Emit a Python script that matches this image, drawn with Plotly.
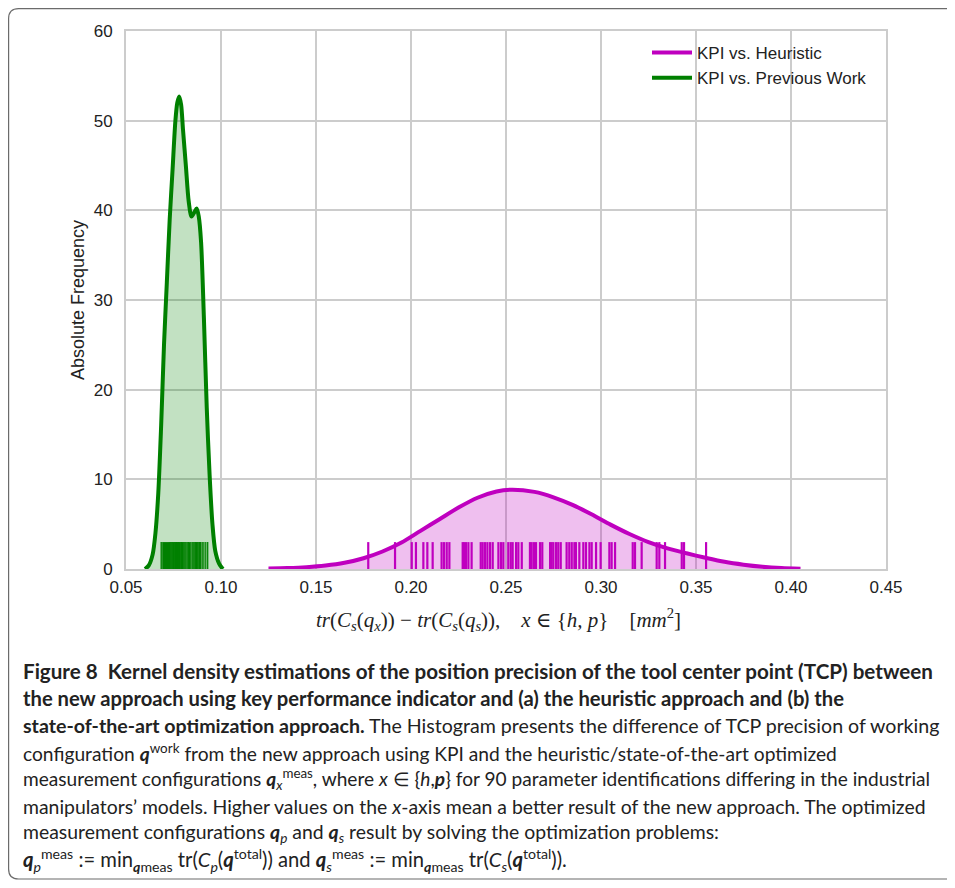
import plotly.graph_objects as go

# ---------------- data ----------------
heur_x = [0.125, 0.135, 0.145, 0.155, 0.165, 0.175, 0.185, 0.195, 0.205, 0.215,
          0.225, 0.235, 0.245, 0.253, 0.265, 0.275, 0.285, 0.295, 0.305, 0.315,
          0.325, 0.335, 0.345, 0.355, 0.365, 0.375, 0.385, 0.395, 0.405]
heur_y = [0.05, 0.10, 0.20, 0.38, 0.69, 1.20, 1.95, 2.95, 4.25, 5.55,
          6.85, 7.95, 8.65, 8.85, 8.60, 8.00, 7.15, 6.10, 4.95, 3.90,
          3.00, 2.30, 1.75, 1.25, 0.80, 0.48, 0.25, 0.11, 0.04]

prev_x = [0.0600, 0.0620, 0.0640, 0.0655, 0.0670, 0.0685, 0.0700, 0.0715, 0.0730,
          0.0745, 0.0760, 0.0770, 0.0780, 0.0790, 0.0800, 0.0815, 0.0830, 0.0845,
          0.0860, 0.0872, 0.0883, 0.0895, 0.0910, 0.0925, 0.0940, 0.0955, 0.0970,
          0.0990, 0.1010]
prev_y = [0.0, 0.4, 1.6, 4.0, 8.5, 16.0, 25.0, 32.0, 39.0,
          44.5, 50.0, 52.0, 52.7, 51.8, 49.0, 45.0, 41.0, 39.3,
          39.8, 40.2, 39.3, 36.5, 28.0, 18.0, 10.5, 5.0, 2.0,
          0.6, 0.0]

heur_rug = [0.1775, 0.1916, 0.2004, 0.2026, 0.2065, 0.2086, 0.2114, 0.2161, 0.2174,
            0.2188, 0.2202, 0.2272, 0.2279, 0.2289, 0.2302, 0.2319, 0.2367, 0.2377,
            0.2389, 0.2402, 0.2416, 0.2430, 0.2460, 0.2474, 0.2486, 0.2512, 0.2525,
            0.2535, 0.2553, 0.2565, 0.2583, 0.2626, 0.2635, 0.2647, 0.2658, 0.2679,
            0.2691, 0.2732, 0.2740, 0.2749, 0.2763, 0.2775, 0.2788, 0.2819, 0.2833,
            0.2846, 0.2860, 0.2868, 0.2886, 0.2907, 0.2921, 0.2939, 0.2951, 0.2974,
            0.2998, 0.3044, 0.3056, 0.3074, 0.3167, 0.3179, 0.3214, 0.3293, 0.3307,
            0.3337, 0.3425, 0.3437, 0.3553]

prev_rug = [0.0685, 0.0690, 0.0697, 0.0702, 0.0708, 0.0713, 0.0719, 0.0724, 0.0729,
            0.0733, 0.0738, 0.0742, 0.0746, 0.0750, 0.0754, 0.0758, 0.0761, 0.0765,
            0.0768, 0.0771, 0.0775, 0.0778, 0.0781, 0.0785, 0.0789, 0.0793, 0.0797,
            0.0801, 0.0806, 0.0811, 0.0816, 0.0822, 0.0828, 0.0834, 0.0841, 0.0848,
            0.0853, 0.0858, 0.0863, 0.0867, 0.0871, 0.0875, 0.0880, 0.0886, 0.0893,
            0.0901, 0.0910, 0.0920, 0.0930]
rug_height = 3.0

series_names = ["KPI vs. Heuristic", "KPI vs. Previous Work"]
x_ticks = [0.05, 0.10, 0.15, 0.20, 0.25, 0.30, 0.35, 0.40, 0.45]
y_ticks = [0, 10, 20, 30, 40, 50, 60]

MAG = "#bf00bf"
GRN = "#008000"


def rug_xy(vals, h):
    xs, ys = [], []
    for v in vals:
        xs += [v, v, None]
        ys += [0, h, None]
    return xs, ys


fig = go.Figure()

# fills
fig.add_trace(go.Scatter(x=heur_x, y=heur_y, mode="lines", line=dict(width=0, shape="spline", smoothing=0.8),
                         fill="tozeroy", fillcolor="rgba(191,0,191,0.25)", showlegend=False, hoverinfo="skip"))
fig.add_trace(go.Scatter(x=prev_x, y=prev_y, mode="lines", line=dict(width=0, shape="spline", smoothing=0.8),
                         fill="tozeroy", fillcolor="rgba(0,128,0,0.24)", showlegend=False, hoverinfo="skip"))

# rugs
rx, ry = rug_xy(heur_rug, rug_height)
fig.add_trace(go.Scatter(x=rx, y=ry, mode="lines", line=dict(color=MAG, width=2.2), showlegend=False, hoverinfo="skip"))
rx, ry = rug_xy(prev_rug, rug_height)
fig.add_trace(go.Scatter(x=rx, y=ry, mode="lines", line=dict(color=GRN, width=1.3), showlegend=False, hoverinfo="skip"))

# curves
fig.add_trace(go.Scatter(x=heur_x, y=heur_y, mode="lines", name=series_names[0],
                         line=dict(color=MAG, width=4, shape="spline", smoothing=0.8)))
fig.add_trace(go.Scatter(x=prev_x, y=prev_y, mode="lines", name=series_names[1],
                         line=dict(color=GRN, width=4, shape="spline", smoothing=0.8)))

# page body has an 8px margin; work in screen pixels and convert
OFF = 8
W, H = 955 - OFF, 888 - OFF
L, R, T, B = 126 - OFF, 69, 31 - OFF, 319
PW, PH = W - L - R, H - T - B


def px(xs):
    return (xs - OFF - L) / PW


def py(ys):
    return (H - B - (ys - OFF)) / PH


# rounded frame around whole figure (left/top edges sit at the page corner)
fl, ft, fb, fr = -L / PW + 0.6 / PW, (H - B - 0.6) / PH, py(879), px(975)
rx_, ry_ = 10 / PW, 10 / PH
frame_path = (f"M {fr},{ft} L {fl + rx_},{ft} Q {fl},{ft} {fl},{ft - ry_} "
              f"L {fl},{fb + ry_} Q {fl},{fb} {fl + rx_},{fb} L {fr},{fb}")

SANS = "Liberation Sans, Arial, sans-serif"
axis_font = dict(family=SANS, size=17, color="#222222")

fig.update_layout(
    width=W, height=H,
    margin=dict(l=L, r=R, t=T, b=B),
    paper_bgcolor="white", plot_bgcolor="white",
    showlegend=True,
    legend=dict(x=px(647), y=py(35), xanchor="left", yanchor="top",
                font=dict(family=SANS, size=17, color="#222222"),
                bgcolor="rgba(0,0,0,0)", itemwidth=40, tracegroupgap=0),
    xaxis=dict(range=[0.05, 0.45], tickvals=x_ticks, ticktext=[f"{v:.2f}" for v in x_ticks],
               showgrid=True, gridcolor="#cccccc", gridwidth=2, zeroline=False,
               showline=True, linecolor="#cccccc", linewidth=2, mirror=True,
               ticks="", tickfont=axis_font, ticklabelstandoff=2),
    yaxis=dict(range=[0, 60], tickvals=y_ticks, showgrid=True, gridcolor="#cccccc", gridwidth=2,
               zeroline=False, showline=True, linecolor="#cccccc", linewidth=2, mirror=True,
               ticks="", tickfont=axis_font, ticklabelstandoff=8,
               title=dict(text="Absolute Frequency", font=dict(family=SANS, size=18, color="#222222"),
                          standoff=4)),
    shapes=[dict(type="path", xref="paper", yref="paper", path=frame_path,
                 line=dict(color="#6b6b6b", width=1.2), layer="above")],
)

# x axis title (math-like, serif italic)
xtitle = ("<i>tr</i>(<i>C</i><sub><i>s</i></sub>(<i>q</i><sub><i>x</i></sub>)) − "
          "<i>tr</i>(<i>C</i><sub><i>s</i></sub>(<i>q</i><sub><i>s</i></sub>)),&#160;&#160;&#160;&#160;"
          "<i>x</i> ∈ {<i>h, p</i>}&#160;&#160;&#160;&#160;[<i>mm</i><sup>2</sup>]")
fig.add_annotation(text=xtitle, xref="paper", yref="paper", x=px(498), y=py(619),
                   xanchor="center", yanchor="middle", showarrow=False,
                   font=dict(family="Liberation Serif, DejaVu Serif, serif", size=21, color="#222222"))

# caption
q = "<b><i>q</i></b>"
cap_lines = [
    "<b>Figure 8&#160;&#160;Kernel density estimations of the position precision of the tool center point (TCP) between</b>",
    "<b>the new approach using key performance indicator and (a) the heuristic approach and (b) the</b>",
    "<b>state-of-the-art optimization approach.</b> The Histogram presents the difference of TCP precision of working",
    f"configuration {q}<sup>work</sup> from the new approach using KPI and the heuristic/state-of-the-art optimized",
    f"measurement configurations {q}<sub><i>x</i></sub><sup>meas</sup>, where <i>x</i> ∈ {{<i>h</i>,{'<b><i>p</i></b>'}}} for 90 parameter identifications differing in the industrial",
    "manipulators’ models. Higher values on the <i>x</i>-axis mean a better result of the new approach. The optimized",
    f"measurement configurations {q}<sub><i>p</i></sub> and {q}<sub><i>s</i></sub> result by solving the optimization problems:",
    f"{q}<sub><i>p</i></sub><sup>meas</sup> := min<sub>{q}meas</sub> tr(<i>C</i><sub><i>p</i></sub>({q}<sup>total</sup>)) and "
    f"{q}<sub><i>s</i></sub><sup>meas</sup> := min<sub>{q}meas</sub> tr(<i>C</i><sub><i>s</i></sub>({q}<sup>total</sup>)).",
]
cap_y = [671, 698, 725, 752, 779, 806, 833, 860]
cap_size = [20.6, 20.2, 19.6, 19.2, 19.1, 19.4, 19.4, 20.2]
for txt, yy, fs in zip(cap_lines, cap_y, cap_size):
    fig.add_annotation(text=txt, xref="paper", yref="paper", x=px(21), y=py(yy),
                       xanchor="left", yanchor="middle", showarrow=False, align="left",
                       font=dict(family="Lato, Open Sans, sans-serif", size=fs, color="#222222"))

fig.write_html("out.html")
